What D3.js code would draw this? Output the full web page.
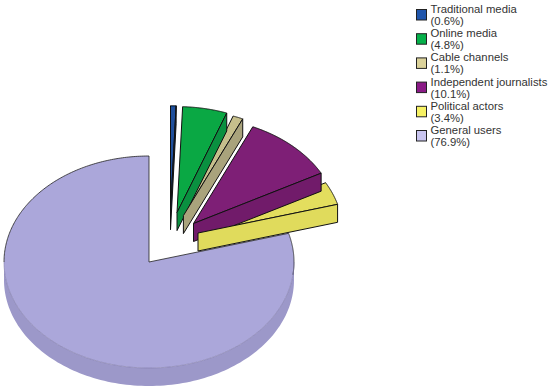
<!DOCTYPE html>
<html>
<head>
<meta charset="utf-8">
<script src="https://cdn.jsdelivr.net/npm/d3@7"></script>
<style>
  html, body { margin: 0; padding: 0; background: #fff; }
  svg { display: block; }
  text { font-family: "Liberation Sans", Arial, sans-serif; fill: #333; }
</style>
</head>
<body>
<svg id="chart" width="550" height="389"></svg>
<script>
const categories = ['Traditional media', 'Online media', 'Cable channels', 'Independent journalists', 'Political actors', 'General users']
const shares = [0.6, 4.8, 1.1, 10.1, 3.4, 76.9]
const shareLabels = ['(0.6%)', '(4.8%)', '(1.1%)', '(10.1%)', '(3.4%)', '(76.9%)']

const topColors = ['#1f4f9c', '#0aa844', '#c6bf8c', '#7e1f76', '#e3de5e', '#aba7da']
const wallColors = ['#14305f', '#0a9040', '#a9a37c', '#711b6a', '#e0db5c', '#9c98c9']
const legendColors = ['#2056ac', '#05b04a', '#dbd29a', '#8a1a86', '#f6f164', '#c9c5f0']

// slice offsets of the exploded pie, in px
const explodeX = [21.5, 28, 34.4, 44.5, 49, 0]
const explodeY = [-50.3, -49.4, -46.4, -38.5, -29, 0]

const CX = 149
const CY = 262
const RX = 145
const RY = 106
const DEPTH = 18

const svg = d3.select('#chart')

const xScale = d3.scaleLinear().domain([-1, 1]).range([CX - RX, CX + RX])
const yScale = d3.scaleLinear().domain([-1, 1]).range([CY - RY, CY + RY])

const rows = categories.map((name, i) => ({ name, value: shares[i], label: shareLabels[i], i }))
const slices = d3.pie().sort(null).value(d => d.value)(rows)

const line = d3.line().x(d => d[0]).y(d => d[1])

// point on the rim, angle is clockwise from 12 o'clock
const rim = (a, i, dy = 0) => [xScale(Math.sin(a)) + explodeX[i], yScale(-Math.cos(a)) + explodeY[i] + dy]
const apex = (i, dy = 0) => [CX + explodeX[i], CY + explodeY[i] + dy]
const arcPts = (a0, a1, i, dy = 0) => d3.range(0, 121).map(k => rim(a0 + (a1 - a0) * k / 120, i, dy))

const general = slices[5]
const others = slices.slice(0, 5)

// big slice goes first, its rim wall under the top face
const front0 = Math.max(general.startAngle, Math.PI / 2)
const front1 = Math.PI * 1.5
svg.append('path')
  .attr('d', line(arcPts(front0, front1, 5).concat(arcPts(front1, front0, 5, DEPTH))) + 'Z')
  .attr('fill', wallColors[5])

svg.append('path')
  .attr('d', line([apex(5)].concat(arcPts(general.startAngle, general.endAngle, 5))) + 'Z')
  .attr('fill', topColors[5])

// dark outline only on the back half and the two cut edges
svg.append('path')
  .attr('d', line(arcPts(Math.PI * 1.5, general.endAngle, 5).concat([apex(5)], arcPts(general.startAngle, front0 + 0.12, 5))))
  .attr('fill', 'none')
  .attr('stroke', '#222')
  .attr('stroke-width', 0.8)

svg.append('path')
  .attr('d', line(arcPts(front0, front1, 5)))
  .attr('fill', 'none')
  .attr('stroke', '#7f7ba8')
  .attr('stroke-width', 0.6)

svg.selectAll('path.top')
  .data(others)
  .join('path')
  .attr('class', 'top')
  .attr('d', d => line([apex(d.data.i)].concat(arcPts(d.startAngle, d.endAngle, d.data.i))) + 'Z')
  .attr('fill', d => topColors[d.data.i])
  .attr('stroke', '#111')
  .attr('stroke-width', 1)
  .attr('stroke-linejoin', 'round')

svg.selectAll('path.wall')
  .data(others)
  .join('path')
  .attr('class', 'wall')
  .attr('d', d => {
    const i = d.data.i
    return line([apex(i), rim(d.endAngle, i), rim(d.endAngle, i, DEPTH), apex(i, DEPTH)]) + 'Z'
  })
  .attr('fill', d => wallColors[d.data.i])
  .attr('stroke', '#111')
  .attr('stroke-width', 1)
  .attr('stroke-linejoin', 'round')

// legend
const legendY = d3.scaleBand().domain(d3.range(categories.length)).range([3, 148.2])

const legend = svg.selectAll('g.legend')
  .data(rows)
  .join('g')
  .attr('class', 'legend')
  .attr('transform', d => `translate(416, ${legendY(d.i)})`)

legend.append('rect')
  .attr('x', 0.5)
  .attr('y', 6.5)
  .attr('width', 10)
  .attr('height', 10.5)
  .attr('fill', d => legendColors[d.i])
  .attr('stroke', '#222')
  .attr('stroke-width', 1)

legend.append('text')
  .attr('x', 14.5)
  .attr('y', 10)
  .attr('font-size', 11.3)
  .text(d => d.name)

legend.append('text')
  .attr('x', 14.5)
  .attr('y', 22)
  .attr('font-size', 11.3)
  .text(d => d.label)
</script>
</body>
</html>
